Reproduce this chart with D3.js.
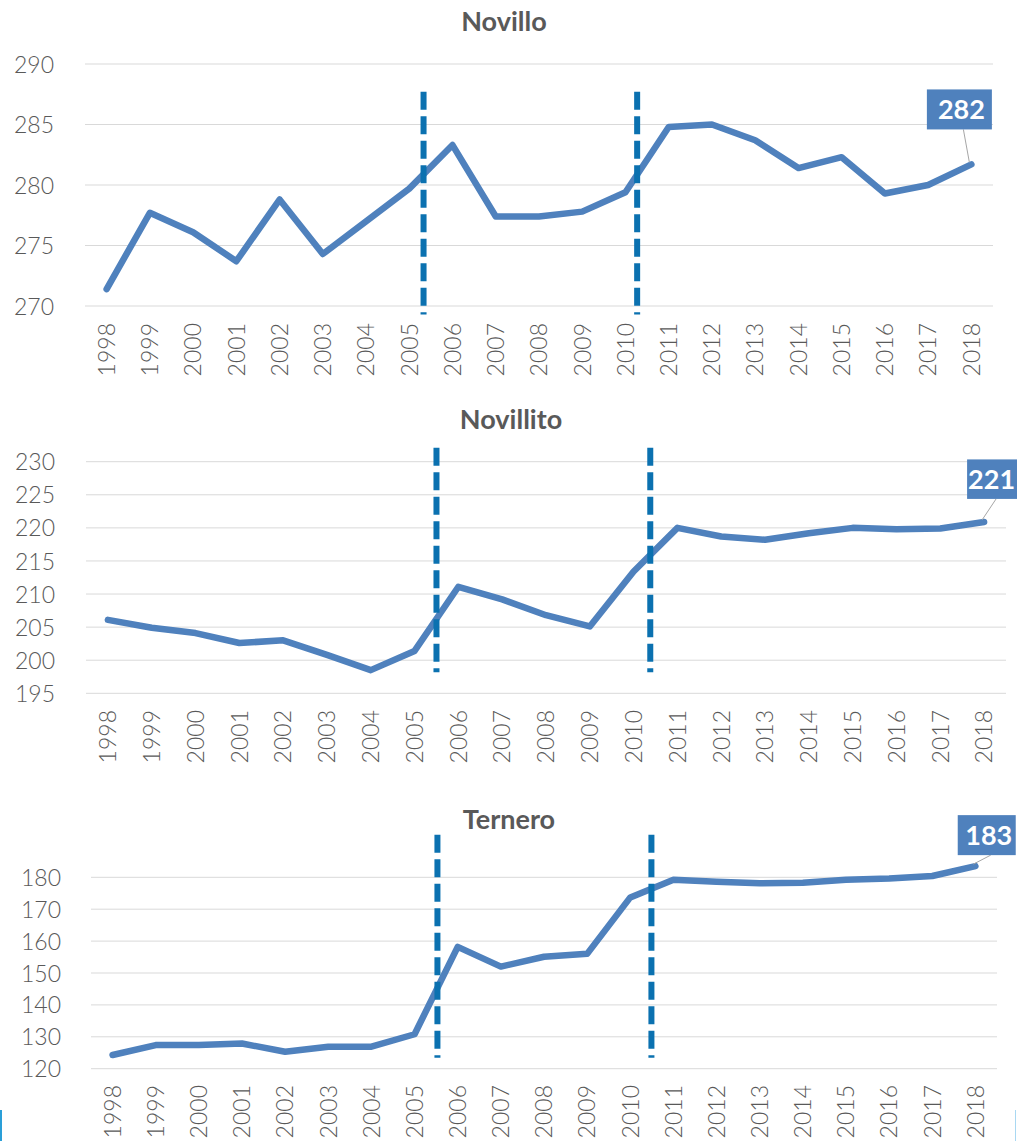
<!DOCTYPE html>
<html lang="es">
<head>
<meta charset="utf-8">
<title>Novillo, Novillito, Ternero</title>
<script src="https://cdn.jsdelivr.net/npm/d3@7"></script>
<style>
  body { margin: 0; background: #fff; }
  .grid line { stroke: #d9d9d9; stroke-width: 1; }
  .tick-label { font-family: "Century Gothic", Lato, "DejaVu Sans", sans-serif; font-size: 23px; font-weight: 300; fill: #595959; }
  .title { font-family: "Century Gothic", Lato, sans-serif; font-size: 27px; font-weight: bold; fill: #595959; }
  .series { fill: none; stroke: #4f81bd; stroke-width: 6.5; stroke-linejoin: round; stroke-linecap: round; }
  .break { stroke: #0b71b0; stroke-width: 6; stroke-dasharray: 18 6.5; }
  .lbl-box { fill: #4f81bd; }
  .lbl-text { font-family: "Century Gothic", Lato, sans-serif; font-size: 27px; font-weight: bold; fill: #fff; }
  .leader { stroke: #a6a6a6; stroke-width: 1; }
</style>
</head>
<body>
<script>
// categories
const years = ["1998","1999","2000","2001","2002","2003","2004","2005","2006","2007",
               "2008","2009","2010","2011","2012","2013","2014","2015","2016","2017","2018"];

// series values
const novillo    = [271.4, 277.7, 276.1, 273.7, 278.8, 274.3, 277.0, 279.7, 283.3, 277.4,
                    277.4, 277.8, 279.4, 284.8, 285.0, 283.7, 281.4, 282.3, 279.3, 280.0, 281.7];
const novillito  = [206.1, 204.9, 204.1, 202.6, 203.0, 200.8, 198.5, 201.4, 211.1, 209.2,
                    206.8, 205.1, 213.4, 220.0, 218.7, 218.2, 219.2, 220.0, 219.8, 219.9, 220.9];
const ternero    = [124.3, 127.4, 127.4, 127.9, 125.3, 126.9, 126.9, 130.8, 158.2, 152.0,
                    155.1, 156.0, 173.7, 179.2, 178.6, 178.1, 178.3, 179.2, 179.6, 180.4, 183.5];

// y tick labels
const novilloTicks   = [270, 275, 280, 285, 290];
const novillitoTicks = [195, 200, 205, 210, 215, 220, 225, 230];
const terneroTicks   = [120, 130, 140, 150, 160, 170, 180];

// dashed break markers, as fractional years, and their vertical extent in data units
const novilloBreaks   = [2005.33, 2010.27];
const novillitoBreaks = [2005.50, 2010.38];
const terneroBreaks   = [2005.53, 2010.49];
const novilloBreakSpan   = [269.3, 287.7];
const novillitoBreakSpan = [198.2, 232.1];
const terneroBreakSpan   = [123.4, 193.3];

// value shown on the last point
const novilloLabel = "282", novillitoLabel = "221", terneroLabel = "183";

const width = 1017, height = 1141;

const svg = d3.select("body").append("svg")
    .attr("width", width)
    .attr("height", height);

// layout of each panel (pixels)
const panels = [
  { title: "Novillo", values: novillo, ticks: novilloTicks, breaks: novilloBreaks, span: novilloBreakSpan,
    label: novilloLabel, left: 85, right: 993, top: 64, bottom: 306, yLabelX: 54,
    titleX: 504, titleY: 31, xLabelTop: 323, box: { dx: -44.5, dy: -75, w: 65, h: 40 } },
  { title: "Novillito", values: novillito, ticks: novillitoTicks, breaks: novillitoBreaks, span: novillitoBreakSpan,
    label: novillitoLabel, left: 86, right: 1006, top: 461.7, bottom: 693.3, yLabelX: 55,
    titleX: 511, titleY: 429, xLabelTop: 710, box: { dx: -17, dy: -62.5, w: 50, h: 39.5, pad: 2 } },
  { title: "Ternero", values: ternero, ticks: terneroTicks, breaks: terneroBreaks, span: terneroBreakSpan,
    label: terneroLabel, left: 91, right: 997, top: 877.3, bottom: 1068.7, yLabelX: 61,
    titleX: 509, titleY: 829, xLabelTop: 1085, box: { dx: -17.7, dy: -51, w: 58, h: 40 } }
];

const drawPanel = p => {
  const g = svg.append("g");
  const ext = d3.extent(p.ticks);

  const x = d3.scalePoint()
      .domain(years)
      .range([p.left, p.right])
      .padding(0.5);
  const y = d3.scaleLinear()
      .domain(ext)
      .range([p.bottom, p.top]);
  const xYear = v => x(years[0]) + (v - +years[0]) * x.step();

  // gridlines
  g.append("g").attr("class", "grid")
    .selectAll("line")
    .data(p.ticks)
    .join("line")
      .attr("x1", p.left)
      .attr("x2", p.right)
      .attr("y1", d => y(d))
      .attr("y2", d => y(d));

  // y axis labels
  const yAxis = d3.axisLeft(y).tickValues(p.ticks).tickSize(0).tickPadding(0);
  const ya = g.append("g")
      .attr("transform", `translate(${p.yLabelX},0)`)
      .call(yAxis);
  ya.select(".domain").remove();
  ya.attr("font-size", null).attr("font-family", null);
  ya.selectAll("text")
      .attr("class", "tick-label")
      .attr("fill", null)
      .attr("dy", "0.35em");

  // x axis labels, rotated
  g.append("g")
    .selectAll("text")
    .data(years)
    .join("text")
      .attr("class", "tick-label")
      .attr("text-anchor", "end")
      .attr("dy", "0.36em")
      .attr("transform", d => `translate(${x(d)},${p.xLabelTop}) rotate(-90)`)
      .text(d => d);

  // title
  g.append("text")
      .attr("class", "title")
      .attr("x", p.titleX)
      .attr("y", p.titleY)
      .attr("text-anchor", "middle")
      .text(p.title);

  // line
  const line = d3.line()
      .x((d, i) => x(years[i]))
      .y(d => y(d));
  g.append("path")
      .datum(p.values)
      .attr("class", "series")
      .attr("d", line);

  // dashed breaks
  g.selectAll(".break")
    .data(p.breaks)
    .join("line")
      .attr("class", "break")
      .attr("x1", d => xYear(d))
      .attr("x2", d => xYear(d))
      .attr("y1", y(p.span[1]))
      .attr("y2", y(p.span[0]));

  // last value label
  const last = p.values.length - 1;
  const px = x(years[last]), py = y(p.values[last]);
  const bx = px + p.box.dx, by = py + p.box.dy;
  g.append("line")
      .attr("class", "leader")
      .attr("x1", bx + p.box.w / 2 + 4)
      .attr("y1", by + p.box.h)
      .attr("x2", px - 2)
      .attr("y2", py - 2);
  g.append("rect")
      .attr("class", "lbl-box")
      .attr("x", bx)
      .attr("y", by)
      .attr("width", p.box.w)
      .attr("height", p.box.h);
  const t = g.append("text")
      .attr("class", "lbl-text")
      .attr("y", by + p.box.h / 2)
      .attr("dy", "0.36em")
      .text(p.label);
  if (p.box.pad != null) {
    t.attr("x", bx + p.box.w - p.box.pad).attr("text-anchor", "end");
  } else {
    t.attr("x", bx + p.box.w / 2 + 2).attr("text-anchor", "middle");
  }
};

panels.forEach(drawPanel);

// selection edge marks at the bottom of the picture
svg.append("line")
    .attr("x1", 1).attr("x2", 1).attr("y1", 1110).attr("y2", height)
    .attr("stroke", "#2a9fd8").attr("stroke-width", 2);
svg.append("line")
    .attr("x1", 1015.5).attr("x2", 1015.5).attr("y1", 1110).attr("y2", height)
    .attr("stroke", "#a9d8f2").attr("stroke-width", 1);
</script>
</body>
</html>
